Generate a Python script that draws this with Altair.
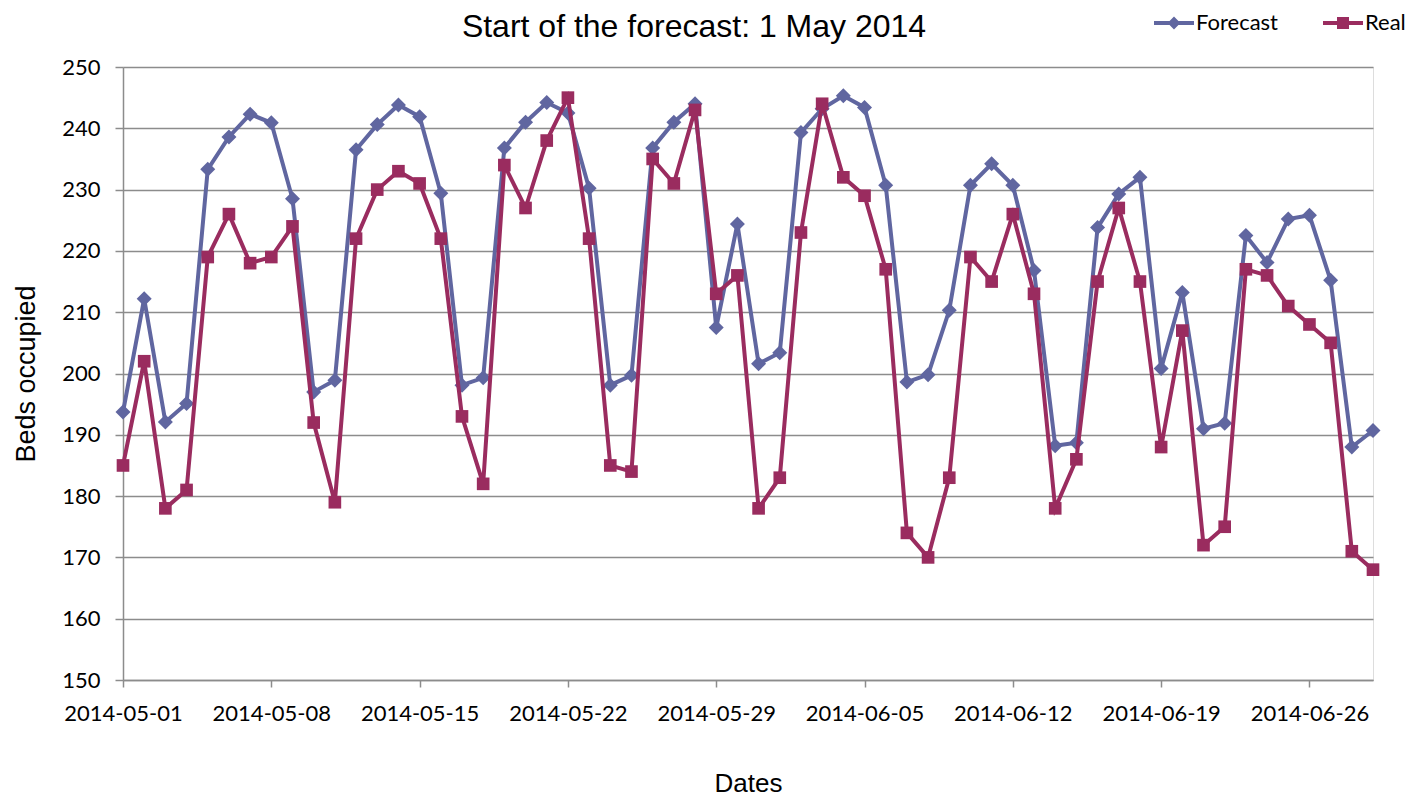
import altair as alt
import pandas as pd

# ---- data -------------------------------------------------------------
dates = pd.date_range("2014-05-01", periods=60, freq="D").strftime("%Y-%m-%d").tolist()

forecast = [
    193.7, 212.2, 192.1, 195.1, 233.3, 238.6, 242.3, 240.9, 228.5, 197.0,
    198.9, 236.5, 240.6, 243.8, 241.9, 229.4, 198.1, 199.3, 236.8, 241.0,
    244.2, 242.5, 230.2, 198.1, 199.7, 236.8, 241.0, 244.0, 207.5, 224.4,
    201.6, 203.4, 239.3, 243.2, 245.3, 243.4, 230.7, 198.6, 199.8, 210.3,
    230.7, 234.2, 230.7, 216.8, 188.2, 188.7, 223.8, 229.3, 232.0, 200.8,
    213.2, 191.0, 191.9, 222.5, 218.1, 225.2, 225.8, 215.2, 188.0, 190.7,
]

real = [
    185, 202, 178, 181, 219, 226, 218, 219, 224, 192,
    179, 222, 230, 233, 231, 222, 193, 182, 234, 227,
    238, 245, 222, 185, 184, 235, 231, 243, 213, 216,
    178, 183, 223, 244, 232, 229, 217, 174, 170, 183,
    219, 215, 226, 213, 178, 186, 215, 227, 215, 188,
    207, 172, 175, 217, 216, 211, 208, 205, 171, 168,
]

x_ticks = ["2014-05-01", "2014-05-08", "2014-05-15", "2014-05-22", "2014-05-29",
           "2014-06-05", "2014-06-12", "2014-06-19", "2014-06-26"]
x_domain = ["2014-05-01", "2014-06-29"]
y_ticks = [150, 160, 170, 180, 190, 200, 210, 220, 230, 240, 250]

series_names = ["Forecast", "Real"]
series_colors = ["#6066A0", "#9A2C5F"]
chart_title = ["Start of the forecast: 1 May 2014"]

df = pd.DataFrame({
    "date": dates + dates,
    "series": ["Forecast"] * len(dates) + ["Real"] * len(dates),
    "value": forecast + real,
})

# helper rows that only feed the legend (their y lies outside the clipped domain)
legend_df = pd.DataFrame({"date": [dates[0]] * 2, "series": series_names, "value": [0, 0]})
title_df = pd.DataFrame({"title": chart_title})


def dt(s):
    y, m, d = (int(p) for p in s.split("-"))
    return alt.DateTime(year=y, month=m, date=d, utc=True)


GRID = "#8c8c8c"
LABEL_FONT = "Lato"
TITLE_FONT = "Liberation Sans"

x_enc = alt.X(
    "date:T",
    scale=alt.Scale(type="utc", domain=[dt(s) for s in x_domain], nice=False),
    axis=alt.Axis(
        values=[dt(s) for s in x_ticks], format="%Y-%m-%d", grid=False,
        domainColor=GRID, domainWidth=1.5, tickColor=GRID, tickWidth=1.5, tickSize=7,
        labelFont=LABEL_FONT, labelFontSize=22, labelColor="black", labelPadding=16,
        labelFlush=False, labelOverlap=False,
        title="Dates", titleFont=TITLE_FONT, titleFontSize=26, titleFontWeight="normal",
        titleColor="black", titleX=625, titleY=111, titleBaseline="alphabetic",
        titleAlign="center",
    ),
)

y_enc = alt.Y(
    "value:Q",
    scale=alt.Scale(domain=[150, 250], nice=False, zero=False),
    axis=alt.Axis(
        values=y_ticks, grid=True, gridColor=GRID, gridWidth=1.5,
        domainColor=GRID, domainWidth=1.5, tickColor=GRID, tickWidth=1.5, tickSize=8,
        labelFont=LABEL_FONT, labelFontSize=22, labelColor="black", labelPadding=15,
        title="Beds occupied", titleFont=TITLE_FONT, titleFontSize=27,
        titleFontWeight="normal", titleColor="black", titleAngle=270,
        titleX=-89, titleY=306.5, titleBaseline="alphabetic", titleAlign="center",
    ),
)

base = alt.Chart(df).encode(x=x_enc, y=y_enc)

f_line = base.transform_filter(alt.datum.series == "Forecast").mark_line(
    color=series_colors[0], strokeWidth=4)
f_pts = base.transform_filter(alt.datum.series == "Forecast").mark_point(
    shape="diamond", filled=True, size=225, color=series_colors[0], opacity=1)
r_line = base.transform_filter(alt.datum.series == "Real").mark_line(
    color=series_colors[1], strokeWidth=4)
r_pts = base.transform_filter(alt.datum.series == "Real").mark_point(
    shape="square", filled=True, size=160, color=series_colors[1], opacity=1)

path_forecast = "M-1,-0.1H1V0.1H-1Z M0,-0.32L0.32,0L0,0.32L-0.32,0Z"
path_real = "M-1,-0.1H1V0.1H-1Z M-0.3,-0.3H0.3V0.3H-0.3Z"

leg = alt.Legend(
    title=None, orient="none", legendX=1031, legendY=-64, direction="horizontal",
    labelFont=LABEL_FONT, labelFontSize=22, labelColor="black", labelOffset=2,
    symbolSize=1600, symbolStrokeWidth=0, symbolOpacity=1, columnPadding=45, padding=0,
)

legend_layer = alt.Chart(legend_df).mark_point(filled=True, opacity=1, clip=True).encode(
    x=x_enc, y=y_enc,
    color=alt.Color("series:N", scale=alt.Scale(domain=series_names, range=series_colors), legend=leg),
    shape=alt.Shape("series:N", scale=alt.Scale(domain=series_names, range=[path_forecast, path_real]), legend=leg),
)

# chart title, written as a text mark placed above the plot area
title_layer = alt.Chart(title_df).mark_text(
    font=TITLE_FONT, fontSize=32, color="black", align="center", baseline="alphabetic",
).encode(text="title:N", x=alt.value(571), y=alt.value(-30))

chart = alt.layer(f_line, f_pts, r_line, r_pts, legend_layer, title_layer).properties(
    width=1250, height=613,
    autosize=alt.AutoSizeParams(type="none"),
    padding={"left": 115, "top": 59, "right": 37, "bottom": 118},
).configure_view(stroke=None).configure(background="white")

chart.save("out.html", embed_options={"renderer": "svg", "actions": False})
